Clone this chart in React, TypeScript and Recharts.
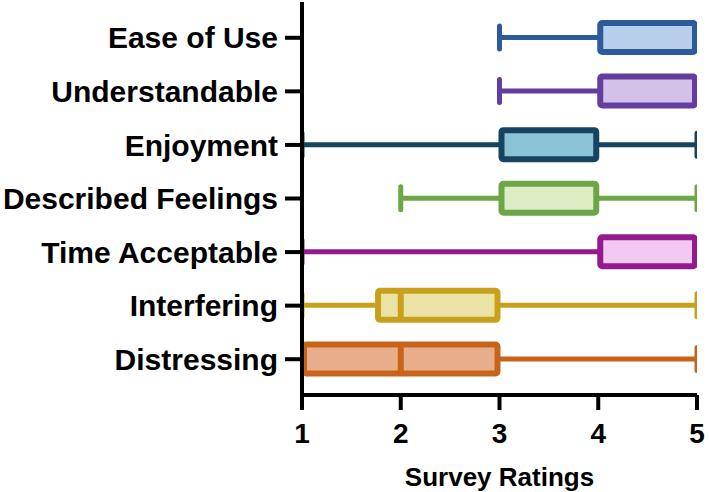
import { ComposedChart, Bar, XAxis, YAxis } from 'recharts';

const categories = [
  'Ease of Use',
  'Understandable',
  'Enjoyment',
  'Described Feelings',
  'Time Acceptable',
  'Interfering',
  'Distressing',
];
const minValues = [3, 3, 1, 2, 1, 1, 1];
const q1Values = [4, 4, 3, 3, 4, 1.75, 1];
const medianValues = [5, 5, 4, 4, 5, 2, 2];
const q3Values = [5, 5, 4, 4, 5, 3, 3];
const maxValues = [5, 5, 5, 5, 5, 5, 5];
const strokeColors = ['#2D5A9B', '#633E9E', '#16435F', '#6CA646', '#941B8F', '#C9A01C', '#C86419'];
const fillColors = ['#B8CFEB', '#D3C2E8', '#8BC3D6', '#DDEEC4', '#F3C8F3', '#EBE3A6', '#E8AE8C'];
const xTicks = [1, 2, 3, 4, 5];

const data = categories.map((name, i) => ({
  name,
  min: minValues[i],
  q1: q1Values[i],
  median: medianValues[i],
  q3: q3Values[i],
  max: maxValues[i],
  range: [minValues[i], maxValues[i]],
  stroke: strokeColors[i],
  fill: fillColors[i],
}));

const FONT = '"Liberation Sans", Arial, sans-serif';

// the ranged bar spans min..max, so its x/width give us the scale for the box parts
function BoxShape(props: any) {
  const { x, y, width, height, payload } = props;
  const { min, q1, median, q3, max, stroke, fill } = payload;
  const unit = width / (max - min);
  const sx = (v: number) => x + (v - min) * unit;
  const cy = y + height / 2;
  const bw = 6;
  const capH = 23;
  return (
    <g>
      {min < q1 && (
        <>
          <line x1={sx(min)} x2={sx(q1)} y1={cy} y2={cy} stroke={stroke} strokeWidth={5} />
          <line x1={sx(min)} x2={sx(min)} y1={cy - capH / 2} y2={cy + capH / 2} stroke={stroke} strokeWidth={5} strokeLinecap="round" />
        </>
      )}
      {max > q3 && (
        <>
          <line x1={sx(q3)} x2={sx(max)} y1={cy} y2={cy} stroke={stroke} strokeWidth={5} />
          <line x1={sx(max)} x2={sx(max)} y1={cy - capH / 2} y2={cy + capH / 2} stroke={stroke} strokeWidth={5} strokeLinecap="round" />
        </>
      )}
      <rect
        x={sx(q1) + 2}
        y={y + bw / 2}
        width={sx(q3) - sx(q1) - 4}
        height={height - bw}
        fill={fill}
        stroke={stroke}
        strokeWidth={bw}
        rx={2}
      />
      {median > q1 && median < q3 && (
        <line x1={sx(median)} x2={sx(median)} y1={y + bw / 2} y2={y + height - bw / 2} stroke={stroke} strokeWidth={6} />
      )}
    </g>
  );
}

export default function App() {
  return (
    <div style={{ position: 'absolute', left: 0, top: 0, width: 709, height: 492, background: '#fff' }}>
      <ComposedChart
        width={709}
        height={492}
        data={data}
        layout="vertical"
        margin={{ top: 2, right: 12, left: 0, bottom: 0 }}
      >
        <XAxis
          type="number"
          domain={[1, 5]}
          ticks={xTicks}
          allowDataOverflow
          height={97}
          axisLine={{ stroke: '#000', strokeWidth: 4 }}
          tickLine={{ stroke: '#000', strokeWidth: 4 }}
          tickSize={15}
          tickMargin={13}
          tick={{ fontSize: 28, fontWeight: 700, fill: '#000', fontFamily: FONT }}
          label={{
            value: 'Survey Ratings',
            position: 'insideBottom',
            offset: 6,
            style: { fontSize: 26, fontWeight: 700, fill: '#000', fontFamily: FONT },
          }}
        />
        <YAxis
          type="category"
          dataKey="name"
          width={302}
          padding={{ top: 9, bottom: 9 }}
          axisLine={{ stroke: '#000', strokeWidth: 4 }}
          tickLine={{ stroke: '#000', strokeWidth: 4 }}
          tickSize={17}
          tickMargin={7}
          interval={0}
          tick={{ fontSize: 30, fontWeight: 700, fill: '#000', fontFamily: FONT }}
        />
        <Bar dataKey="range" barSize={35} shape={<BoxShape />} isAnimationActive={false} />
      </ComposedChart>
    </div>
  );
}
